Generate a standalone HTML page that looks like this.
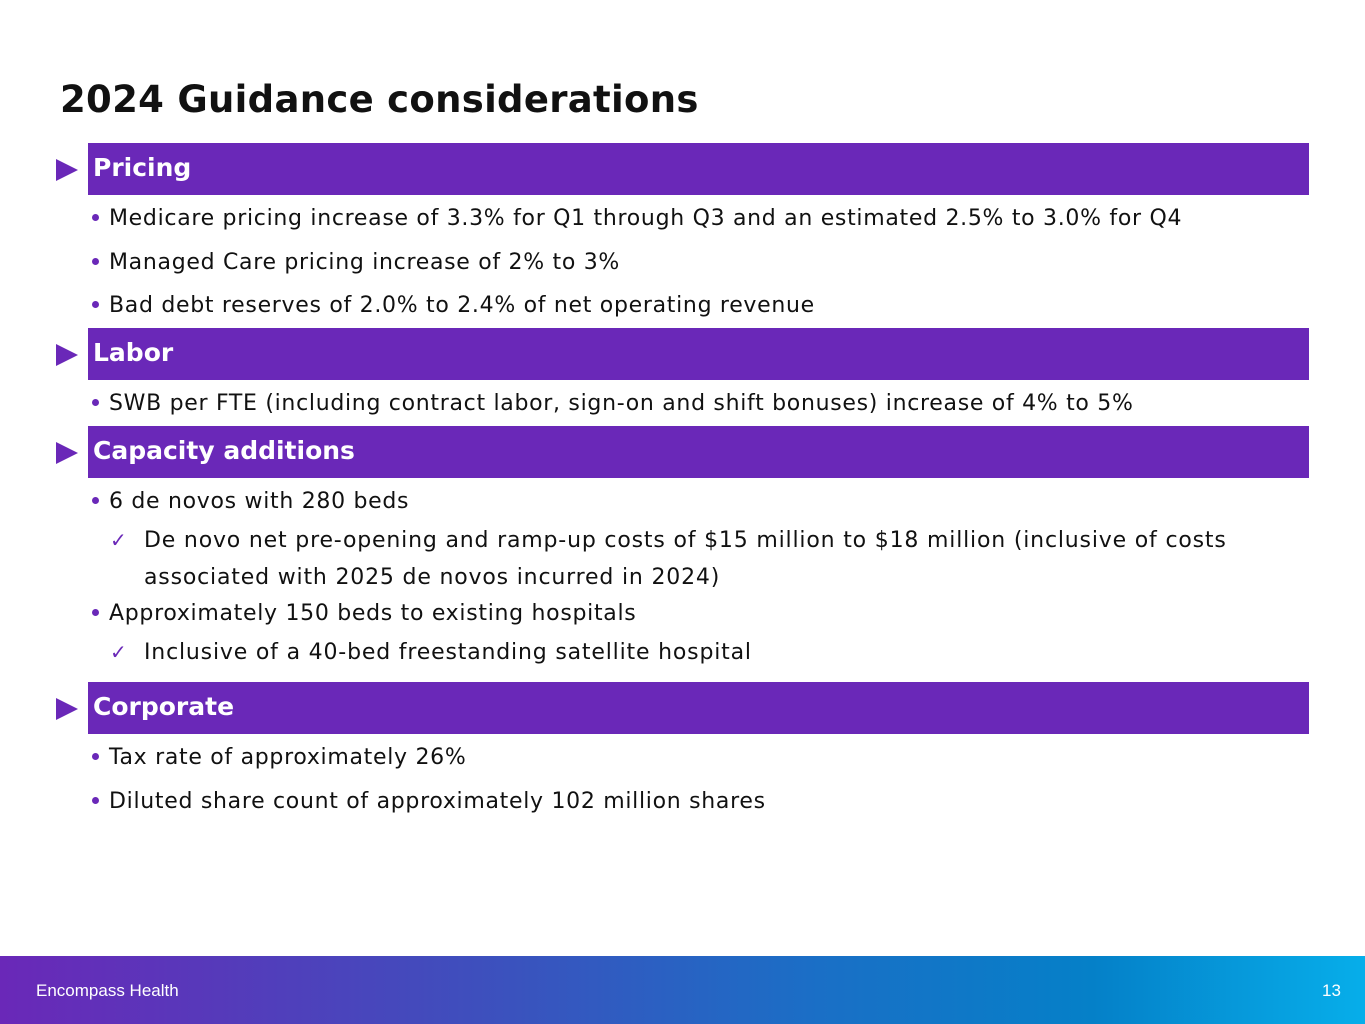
<!DOCTYPE html>
<html><head><meta charset="utf-8"><style>
body{margin:0;width:1365px;height:1024px;position:relative;background:#fff;font-family:"DejaVu Sans","Liberation Sans",sans-serif;overflow:hidden}
.t{position:absolute;white-space:nowrap}
h1{position:absolute;left:60px;top:78px;margin:0;font-size:37px;font-weight:bold;color:#111;letter-spacing:0.3px}
.bar{position:absolute;left:88px;width:1221px;height:52px;background:#6a28b8;color:#fff;font-weight:bold;font-size:25px;line-height:50px;padding-left:5px;box-sizing:border-box}
.tri{position:absolute;left:56px;width:0;height:0;border-top:11px solid transparent;border-bottom:11px solid transparent;border-left:22px solid #6a28b8}
.l{position:absolute;left:109px;font-size:22px;letter-spacing:0.7px;color:#111;white-space:nowrap;line-height:26px}
.d{position:absolute;left:92px;width:7px;height:7px;border-radius:50%;background:#6a28b8}
.c{position:absolute;left:144px;font-size:22px;letter-spacing:0.82px;color:#111;white-space:nowrap;line-height:37px}
.k{position:absolute;left:110px;color:#6a28b8;font-size:20px;line-height:37px}
.foot{position:absolute;left:0;top:956px;width:1365px;height:68px;background:linear-gradient(90deg,#6a28b8 0%,#3e4fbd 35%,#1a6fc6 60%,#0580c8 80%,#06aeea 100%)}
</style></head><body>
<h1>2024 Guidance considerations</h1>
<div class="tri" style="top:159px"></div><div class="bar" style="top:143px">Pricing</div>
<div class="d" style="top:214px"></div><div class="l" style="top:206px">Medicare pricing increase of 3.3% for Q1 through Q3 and an estimated 2.5% to 3.0% for Q4</div>
<div class="d" style="top:258px"></div><div class="l" style="top:250px">Managed Care pricing increase of 2% to 3%</div>
<div class="d" style="top:301px"></div><div class="l" style="top:293px">Bad debt reserves of 2.0% to 2.4% of net operating revenue</div>
<div class="tri" style="top:344px"></div><div class="bar" style="top:328px">Labor</div>
<div class="d" style="top:399px"></div><div class="l" style="top:391px">SWB per FTE (including contract labor, sign-on and shift bonuses) increase of 4% to 5%</div>
<div class="tri" style="top:442px"></div><div class="bar" style="top:426px">Capacity additions</div>
<div class="d" style="top:497px"></div><div class="l" style="top:489px">6 de novos with 280 beds</div>
<div class="k" style="top:522px">✓</div><div class="c" style="top:522px">De novo net pre-opening and ramp-up costs of $15 million to $18 million (inclusive of costs</div>
<div class="c" style="top:559px">associated with 2025 de novos incurred in 2024)</div>
<div class="d" style="top:609px"></div><div class="l" style="top:601px">Approximately 150 beds to existing hospitals</div>
<div class="k" style="top:634px">✓</div><div class="c" style="top:634px">Inclusive of a 40-bed freestanding satellite hospital</div>
<div class="tri" style="top:698px"></div><div class="bar" style="top:682px">Corporate</div>
<div class="d" style="top:753px"></div><div class="l" style="top:745px">Tax rate of approximately 26%</div>
<div class="d" style="top:797px"></div><div class="l" style="top:789px">Diluted share count of approximately 102 million shares</div>
<div class="foot"></div>
<div class="t" style="left:36px;top:981px;font-size:17px;color:#fff;font-family:'Liberation Sans',sans-serif">Encompass Health</div>
<div class="t" style="left:1322px;top:981px;font-size:17px;color:#fff;font-family:'Liberation Sans',sans-serif">13</div>
</body></html>
